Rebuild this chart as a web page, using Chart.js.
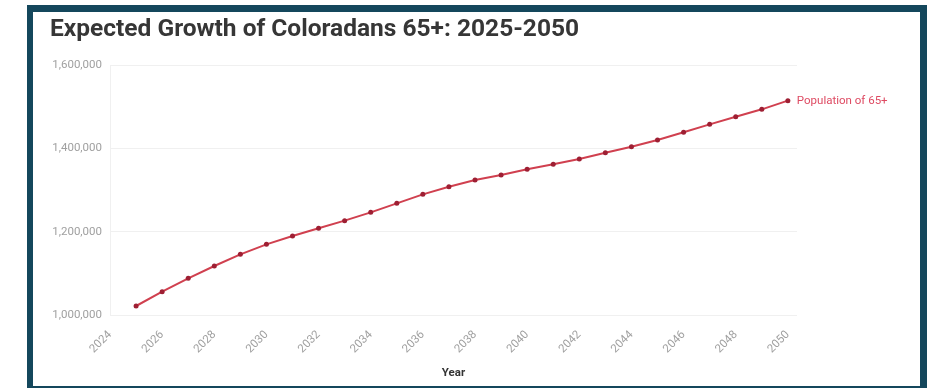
<!DOCTYPE html>
<html>
<head>
<meta charset="utf-8">
<script src="https://cdn.jsdelivr.net/npm/chart.js@4.4.1/dist/chart.umd.min.js"></script>
<style>
  html, body { margin: 0; padding: 0; background: #fff; overflow: hidden; }
  body { width: 944px; height: 388px; position: relative; }
  .frame {
    position: absolute; left: 27px; top: 5px;
    width: 887px; height: 374px;
    border: 7px solid #14475c; border-left-width: 6px;
    background: #fff;
  }
  .frame canvas { display: block; }
</style>
</head>
<body>
<div class="frame"><canvas id="chart" width="887" height="374"></canvas></div>
<script>
// Projected population of Coloradans aged 65 and older, by year
const years = [2025, 2026, 2027, 2028, 2029, 2030, 2031, 2032, 2033, 2034, 2035, 2036, 2037,
               2038, 2039, 2040, 2041, 2042, 2043, 2044, 2045, 2046, 2047, 2048, 2049, 2050];
const population65 = [1021600, 1056000, 1088000, 1117600, 1145600, 1169600, 1189600, 1208000,
                      1226400, 1246400, 1268000, 1289600, 1308000, 1324000, 1336000, 1349600,
                      1361600, 1374400, 1389600, 1404000, 1420000, 1438400, 1457600, 1476000,
                      1493600, 1514400];
const seriesName = 'Population of 65+';
const yTicks = [1000000, 1200000, 1400000, 1600000];
const xTickYears = [2024, 2026, 2028, 2030, 2032, 2034, 2036, 2038, 2040, 2042, 2044, 2046, 2048, 2050];

const points = years.map((y, i) => ({ x: y, y: population65[i] }));

// Writes the series name just to the right of the last point
const endLabel = {
  id: 'endLabel',
  afterDatasetsDraw(chart) {
    const meta = chart.getDatasetMeta(0);
    const last = meta.data[meta.data.length - 1];
    const ctx = chart.ctx;
    ctx.save();
    ctx.font = '11.5px Roboto';
    ctx.fillStyle = '#de4a62';
    ctx.textAlign = 'left';
    ctx.textBaseline = 'middle';
    ctx.fillText(seriesName, last.x + 9, last.y);
    ctx.restore();
  }
};

new Chart(document.getElementById('chart'), {
  type: 'line',
  data: {
    datasets: [{
      label: seriesName,
      data: points,
      borderColor: '#d0404f',
      borderWidth: 2,
      pointRadius: 2.5,
      pointBackgroundColor: '#9e1f33',
      pointBorderColor: '#9e1f33',
      pointBorderWidth: 0,
      tension: 0
    }]
  },
  options: {
    responsive: false,
    animation: false,
    layout: { padding: { left: 17, right: 123, top: 0, bottom: 0 } },
    plugins: {
      legend: { display: false },
      tooltip: { enabled: false },
      title: {
        display: true,
        text: 'Expected Growth of Coloradans 65+: 2025-2050',
        align: 'start',
        color: '#363636',
        font: { family: 'Roboto', size: 24.5, weight: 'bold' },
        padding: { top: 3, bottom: 20.6 }
      }
    },
    scales: {
      x: {
        type: 'linear',
        min: 2024,
        max: 2050.35,
        afterBuildTicks(scale) { scale.ticks = xTickYears.map(v => ({ value: v })); },
        afterFit(scale) { scale.height = 71; },
        grid: { display: false, drawTicks: false },
        border: { display: false },
        ticks: {
          autoSkip: false,
          maxRotation: 45,
          minRotation: 45,
          padding: 13,
          color: '#a0a0a0',
          font: { family: 'Roboto', size: 11.5 },
          callback: v => String(v)
        },
        title: {
          display: true,
          text: 'Year',
          color: '#333333',
          font: { family: 'Roboto', size: 11.5, weight: 'bold' },
          padding: { top: 0, bottom: 6 }
        }
      },
      y: {
        min: 1000000,
        max: 1600000,
        afterBuildTicks(scale) { scale.ticks = yTicks.map(v => ({ value: v })); },
        afterFit(scale) { scale.width = 60; },
        grid: { color: '#f0f0f0', lineWidth: 1, drawTicks: false },
        border: { display: true, color: '#f0f0f0' },
        ticks: {
          padding: 8,
          color: '#a0a0a0',
          font: { family: 'Roboto', size: 11.5 },
          callback: v => v.toLocaleString('en-US')
        }
      }
    }
  },
  plugins: [endLabel]
});
</script>
</body>
</html>
